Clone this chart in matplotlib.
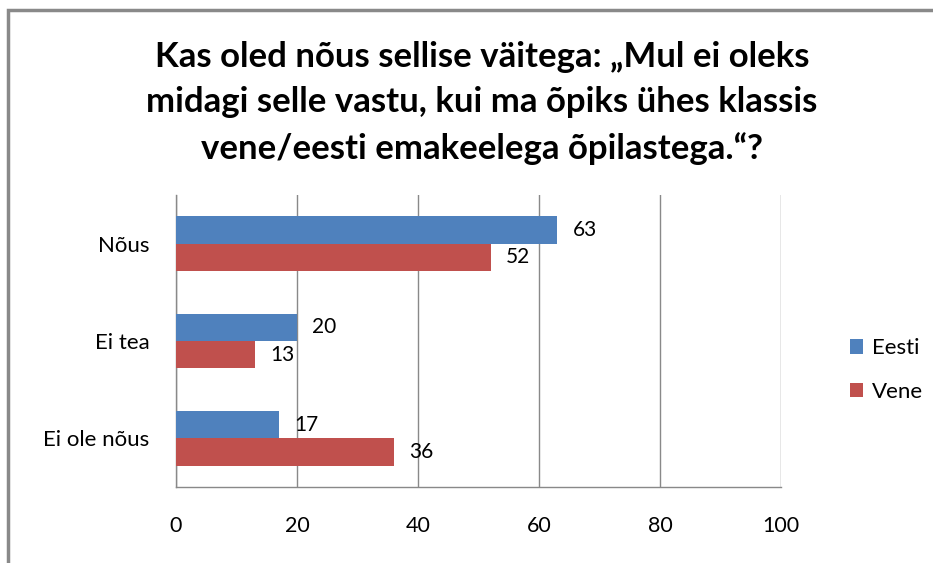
import matplotlib.pyplot as plt
import numpy as np
from matplotlib.patches import Rectangle

# data
categories = ['Nõus', 'Ei tea', 'Ei ole nõus']
eesti = [63, 20, 17]
vene = [52, 13, 36]
series_names = ['Eesti', 'Vene']
x_ticks = [0, 20, 40, 60, 80, 100]

title = 'Kas oled nõus sellise väitega: „Mul ei oleks\nmidagi selle vastu, kui ma õpiks ühes klassis\nvene/eesti emakeelega õpilastega.“?'

blue = '#4F81BD'
red = '#C0504D'
grey = '#898989'

plt.rcParams['font.family'] = ['Lato', 'DejaVu Sans']

W, H = 933, 563
fig = plt.figure(figsize=(W / 100, H / 100), dpi=100)
ax = fig.add_axes([176 / W, 1 - 487 / H, (781 - 176) / W, (487 - 195) / H])

y = np.arange(len(categories))
h = 0.28
b1 = ax.barh(y - h / 2, eesti, height=h, color=blue, label=series_names[0], zorder=3)
b2 = ax.barh(y + h / 2, vene, height=h, color=red, label=series_names[1], zorder=3)

for bars, vals in [(b1, eesti), (b2, vene)]:
    for bar, v in zip(bars, vals):
        ax.annotate(str(v), (bar.get_width(), bar.get_y() + bar.get_height() / 2),
                    xytext=(11, 0), textcoords='offset points',
                    va='center', ha='left', fontsize=15, color='black', zorder=4)

ax.set_xlim(0, 100)
ax.set_ylim(len(categories) - 0.5, -0.5)
ax.set_xticks(x_ticks)
ax.set_yticks(y)
ax.set_yticklabels(categories)
ax.tick_params(axis='x', length=0, pad=21, labelsize=15.5)
ax.tick_params(axis='y', length=0, pad=19, labelsize=16)
ax.grid(axis='x', color=grey, linewidth=1, zorder=0)
for s in ['top', 'right']:
    ax.spines[s].set_visible(False)
for s in ['left', 'bottom']:
    ax.spines[s].set_color(grey)
    ax.spines[s].set_linewidth(1)

fig.text(482 / W, 1 - 103 / H, title, ha='center', va='center',
         fontsize=25, fontweight='bold', linespacing=1.5)

fig.legend(handles=[b1, b2], loc='center left', bbox_to_anchor=(830 / W, 1 - 370 / H),
           frameon=False, fontsize=16, handlelength=0.6, handleheight=0.6,
           handletextpad=0.4, labelspacing=1.05)

# outer chart border (left and top visible)
fig.patches.append(Rectangle((8 / W, -0.1), 1.2, 1 - 10 / H + 0.1, transform=fig.transFigure,
                             fill=False, edgecolor=grey, linewidth=2.5))

fig.savefig('out.png', dpi=100)
